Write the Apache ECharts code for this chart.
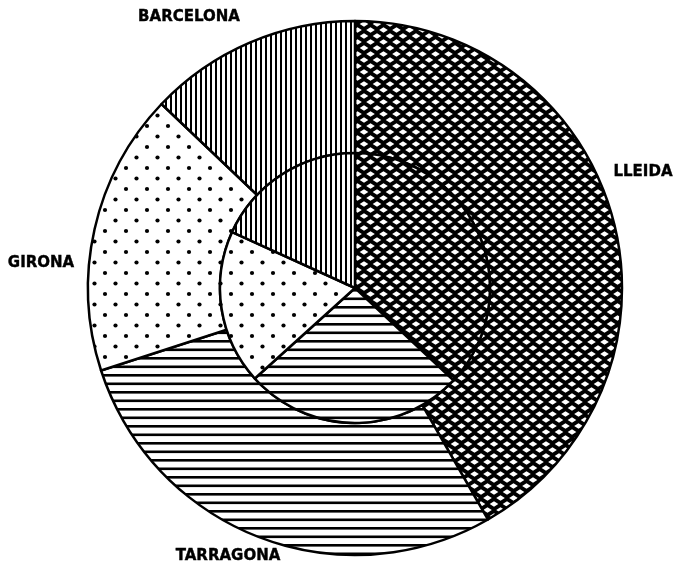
<!DOCTYPE html>
<html>
<head>
<meta charset="utf-8">
<script src="https://cdn.jsdelivr.net/npm/echarts@6.0.0/dist/echarts.min.js"></script>
<style>
html,body{margin:0;padding:0;background:#fff;}
#main{width:675px;height:565px;}
</style>
</head>
<body>
<div id="main"></div>
<script>
var provinces = ['LLEIDA', 'TARRAGONA', 'GIRONA', 'BARCELONA'];
var innerValues = [37.0, 26.3, 18.5, 18.2];
var outerValues = [41.7, 28.3, 17.1, 12.9];

// where the province names sit (px), same order as provinces
var labelPos = [[643, 172], [228, 556], [41, 263], [189, 17]];

function tile(w, h, draw) {
    var c = document.createElement('canvas');
    c.width = w;
    c.height = h;
    var ctx = c.getContext('2d');
    ctx.fillStyle = '#fff';
    ctx.fillRect(0, 0, w, h);
    ctx.fillStyle = '#000';
    draw(ctx);
    return {image: c, repeat: 'repeat'};
}

// crosshatch: black with small white diamonds
var cross = tile(13, 12, function (ctx) {
    ctx.fillRect(0, 0, 13, 12);
    ctx.fillStyle = '#fff';
    var pts = [[0, 0], [13, 0], [0, 12], [13, 12], [6.5, 6]];
    for (var i = 0; i < pts.length; i++) {
        var x = pts[i][0], y = pts[i][1];
        ctx.beginPath();
        ctx.moveTo(x - 4.3, y);
        ctx.lineTo(x, y - 2.7);
        ctx.lineTo(x + 4.3, y);
        ctx.lineTo(x, y + 2.7);
        ctx.closePath();
        ctx.fill();
    }
});
// horizontal lines
var hlines = tile(4, 17, function (ctx) {
    ctx.fillRect(0, 0, 4, 2.6);
    ctx.fillRect(0, 8.5, 4, 2.6);
});
// dots
var dots = tile(21, 21, function (ctx) {
    var pts = [[0, 0], [21, 0], [0, 21], [21, 21], [10.5, 10.5]];
    for (var i = 0; i < pts.length; i++) {
        ctx.beginPath();
        ctx.arc(pts[i][0], pts[i][1], 2.1, 0, Math.PI * 2);
        ctx.fill();
    }
});
// vertical lines
var vlines = tile(5, 4, function (ctx) {
    ctx.fillRect(0, 0, 2, 4);
});
var fills = [cross, hlines, dots, vlines];

function build(values) {
    var arr = [];
    for (var i = 0; i < provinces.length; i++) {
        arr.push({name: provinces[i], value: values[i], itemStyle: {color: fills[i]}});
    }
    return arr;
}

var option = {
    animation: false,
    backgroundColor: '#fff',
    series: [
        {
            name: 'outer',
            type: 'pie',
            center: [355, 288],
            radius: [135, 267],
            startAngle: 90,
            clockwise: true,
            silent: true,
            avoidLabelOverlap: false,
            itemStyle: {borderColor: '#000', borderWidth: 2.5},
            label: {
                show: true,
                position: 'outside',
                overflow: 'none',
                color: '#000',
                fontFamily: 'DejaVu Sans',
                fontWeight: 'bold',
                fontSize: 15,
                textBorderColor: '#000',
                textBorderWidth: 0.4
            },
            labelLine: {show: false},
            labelLayout: function (params) {
                var p = labelPos[params.dataIndex];
                return {x: p[0], y: p[1], align: 'center', verticalAlign: 'middle', hideOverlap: false};
            },
            emphasis: {disabled: true},
            data: build(outerValues)
        },
        {
            name: 'inner',
            type: 'pie',
            center: [355, 288],
            radius: [0, 135],
            startAngle: 90,
            clockwise: true,
            silent: true,
            itemStyle: {borderColor: '#000', borderWidth: 2.5},
            label: {show: false},
            labelLine: {show: false},
            emphasis: {disabled: true},
            data: build(innerValues)
        }
    ]
};

var chart = echarts.init(document.getElementById('main'), null, {renderer: 'canvas'});
chart.setOption(option);
</script>
</body>
</html>
